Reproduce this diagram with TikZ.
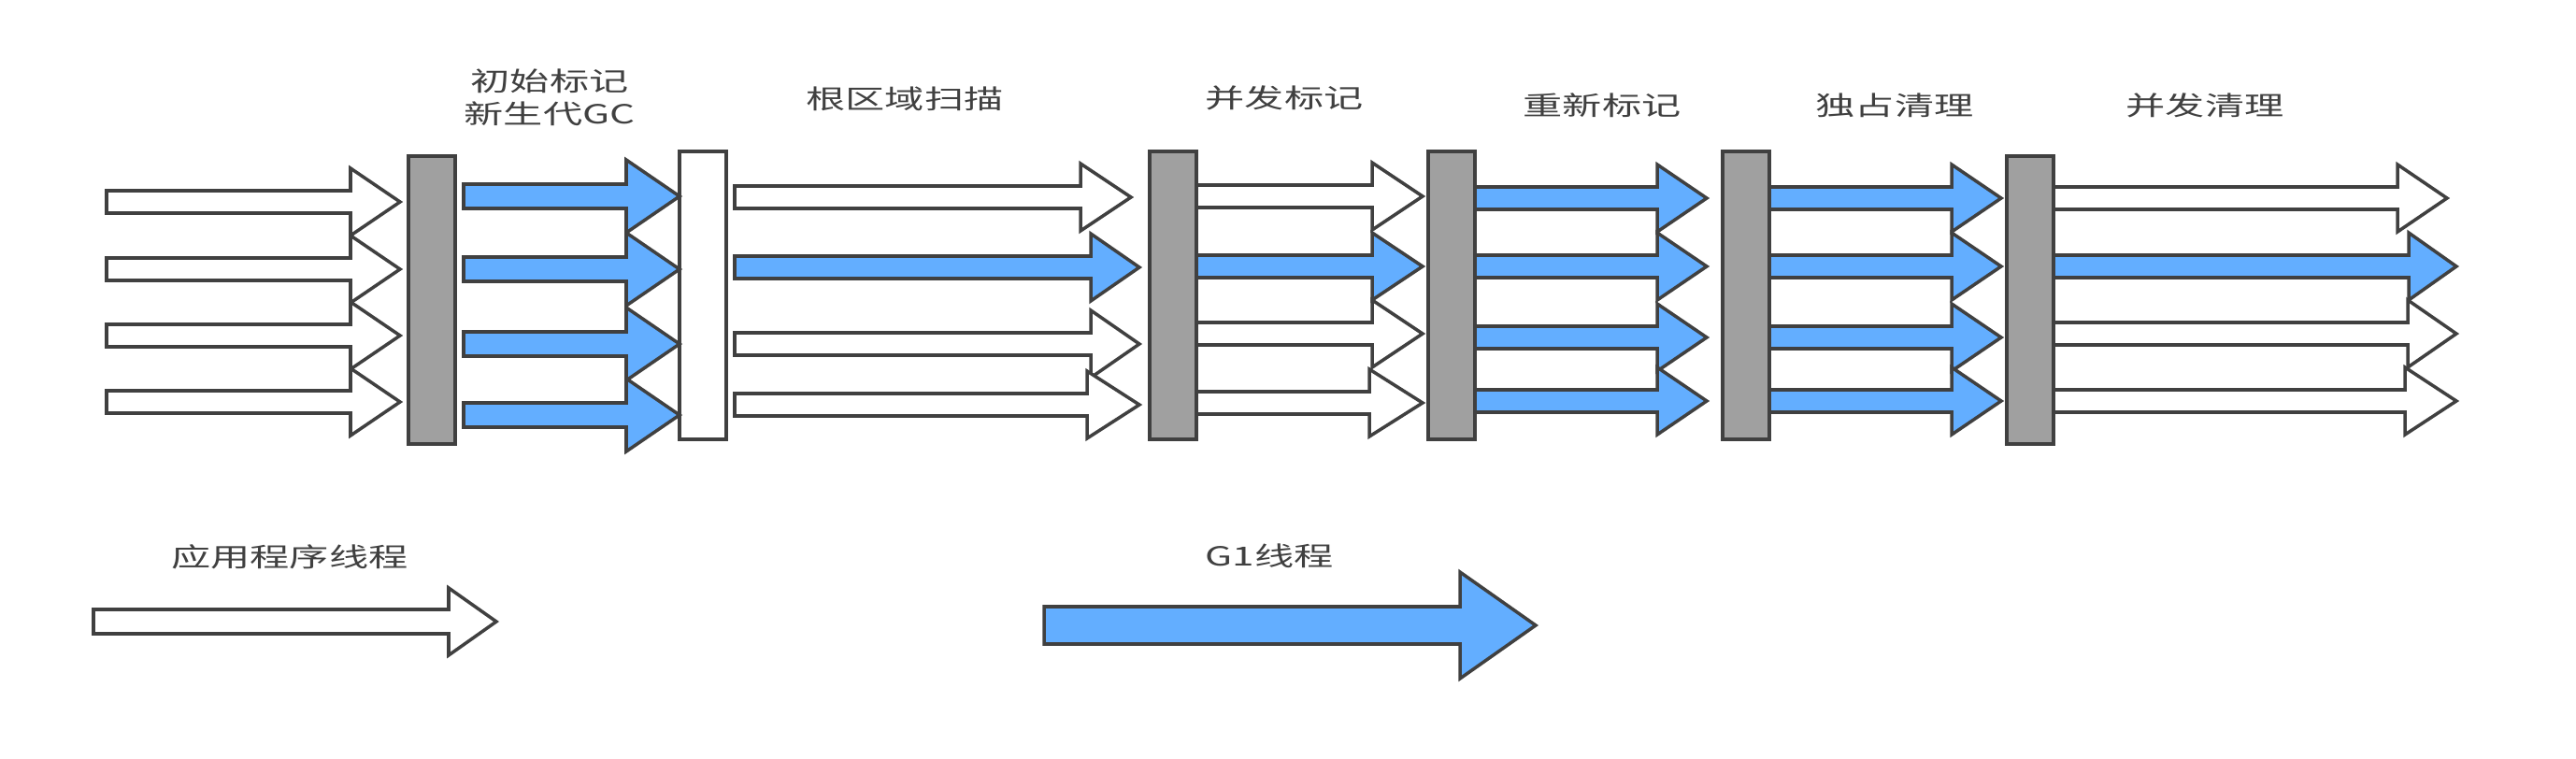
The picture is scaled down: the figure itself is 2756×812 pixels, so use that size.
\documentclass[tikz,border=0pt]{standalone}
\usepackage{fontspec}
\setmainfont{Noto Sans CJK SC}
\usetikzlibrary{positioning}

\definecolor{gcblue}{RGB}{99,174,255}
\definecolor{bargray}{RGB}{160,160,160}
\definecolor{edgegray}{RGB}{64,64,64}
\definecolor{labelgray}{RGB}{64,64,64}

\begin{document}
\begin{tikzpicture}[x=0.01cm,y=-0.01cm,line width=1pt,line join=miter,
                    barrier/.style={rectangle,draw=edgegray,fill=bargray,inner sep=0,
                                    minimum width=0.5cm,minimum height=3.08cm},
                    app/.style={draw=edgegray,fill=white},
                    gc/.style={draw=edgegray,fill=gcblue},
                    phase/.style={text=labelgray,font=\fontsize{8}{10}\selectfont,
                                  xscale=1.5,inner sep=0,align=center}]

  \useasboundingbox (0,0) rectangle (2756,812);

  % pauses between the phases
  \node[barrier] (b1) at (462,321) {};
  \node[barrier,fill=white] (b2) at (752,316) {};
  \node[barrier] (b3) at (1255,316) {};
  \node[barrier] (b4) at (1553,316) {};
  \node[barrier] (b5) at (1868,316) {};
  \node[barrier] (b6) at (2172,321) {};

  % phase names
  \node[phase] (p1) at (588,104) {初始标记\\新生代GC};
  \node[phase] (p2) at (968,106) {根区域扫描};
  \node[phase] (p3) at (1374,105) {并发标记};
  \node[phase] (p4) at (1714,113) {重新标记};
  \node[phase] (p5) at (2027,113) {独占清理};
  \node[phase] (p6) at (2359,113) {并发清理};

  % threads
  \foreach \t/\b/\p/\y in {496/670/727/210, 496/670/727/288, 496/670/727/368, 496/670/727/444}
    \draw[gc] (\t,\y-13) -- (\b,\y-13) -- (\b,\y-39) -- (\p,\y) -- (\b,\y+39) -- (\b,\y+13) -- (\t,\y+13) -- cycle;

  \foreach \t/\b/\p/\y/\s in {114/375/428/216/app, 114/375/428/288/app, 114/375/428/359/app, 114/375/428/430/app,
                              786/1156/1210/211/app, 786/1167/1219/286/gc, 786/1167/1219/368/app, 786/1163/1219/433/app,
                              1280/1468/1522/210/app, 1280/1468/1522/285/gc, 1280/1468/1522/357/app, 1280/1465/1522/431/app,
                              1578/1773/1826/212/gc, 1578/1773/1826/285/gc, 1578/1773/1826/361/gc, 1578/1773/1826/429/gc,
                              1893/2088/2141/212/gc, 1893/2088/2141/285/gc, 1893/2088/2141/361/gc, 1893/2088/2141/429/gc,
                              2197/2565/2618/212/app, 2197/2577/2628/285/gc, 2197/2576/2628/357/app, 2197/2573/2628/429/app}
    \draw[\s] (\t,\y-12) -- (\b,\y-12) -- (\b,\y-36) -- (\p,\y) -- (\b,\y+36) -- (\b,\y+12) -- (\t,\y+12) -- cycle;

  % legend
  \node[phase] (l1) at (310,596) {应用程序线程};
  \node[phase] (l2) at (1358,595) {G1线程};
  \draw[app] (100,652) -- (480,652) -- (480,629) -- (531,665) -- (480,701) -- (480,678) -- (100,678) -- cycle;
  \draw[gc] (1117,649) -- (1562,649) -- (1562,612) -- (1643,669) -- (1562,726) -- (1562,689) -- (1117,689) -- cycle;
\end{tikzpicture}
\end{document}
